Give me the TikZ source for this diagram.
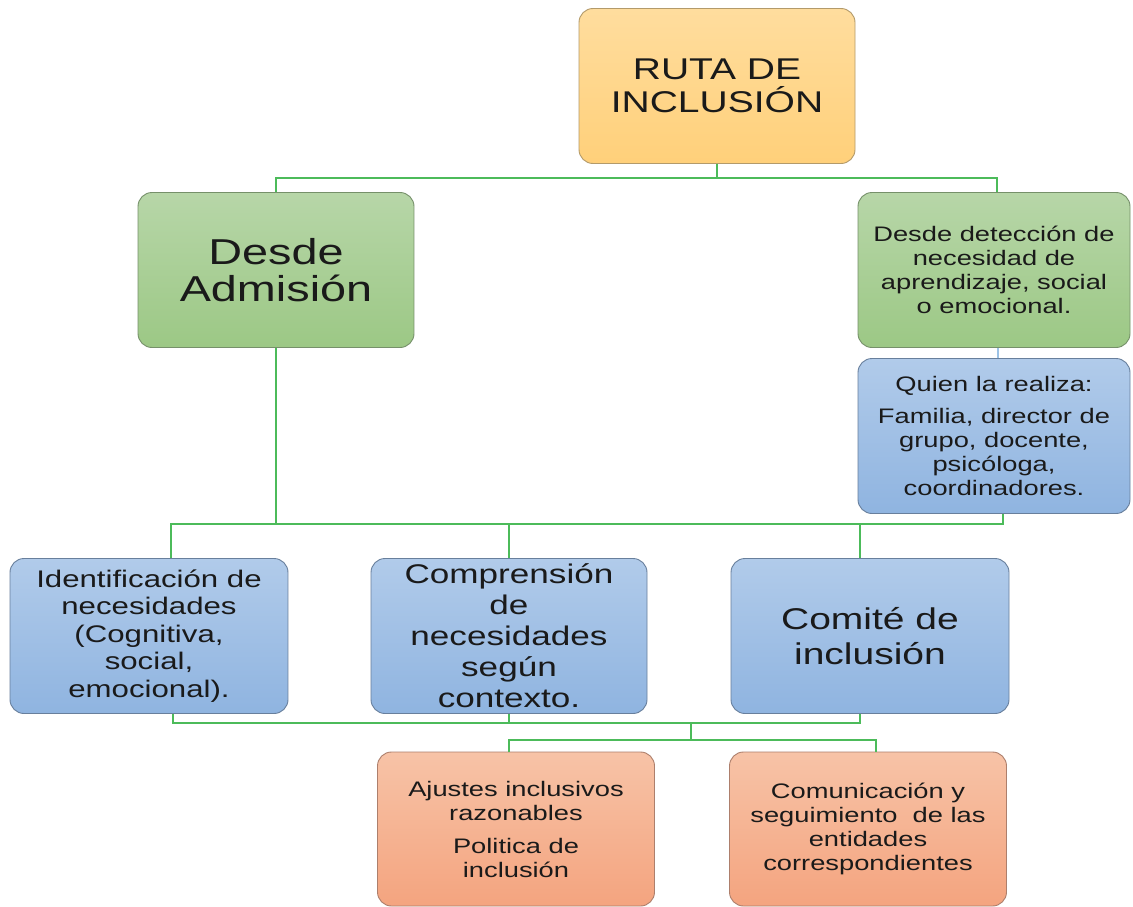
\documentclass[tikz,border=0pt]{standalone}
\usepackage{fontspec}
\setmainfont{Liberation Sans}[FakeStretch=1.3]
\usetikzlibrary{calc}

\definecolor{txt}{HTML}{1A1A1A}
\definecolor{linkgreen}{HTML}{4CBB5A}
\definecolor{linkblue}{HTML}{9DC3E6}
\definecolor{yellowtop}{HTML}{FFDD9E}
\definecolor{yellowbot}{HTML}{FFD07A}
\definecolor{yellowline}{HTML}{B39A6A}
\definecolor{greentop}{HTML}{B7D6A8}
\definecolor{greenbot}{HTML}{9CC885}
\definecolor{greenline}{HTML}{76906A}
\definecolor{bluetop}{HTML}{B1CBEA}
\definecolor{bluebot}{HTML}{8FB4E0}
\definecolor{blueline}{HTML}{687F9C}
\definecolor{orangetop}{HTML}{F7C3A7}
\definecolor{orangebot}{HTML}{F4A47F}
\definecolor{orangeline}{HTML}{AD7F6C}

\begin{document}
\begin{tikzpicture}[x=1pt,y=-1pt]
    \tikzstyle{box}=[rectangle,rounded corners=14pt,line width=0.9pt,align=center,text=txt,inner sep=2pt,minimum width=276pt,minimum height=155pt]
    \tikzstyle{yellowbox}=[box,draw=yellowline,top color=yellowtop,bottom color=yellowbot]
    \tikzstyle{greenbox}=[box,draw=greenline,top color=greentop,bottom color=greenbot]
    \tikzstyle{bluebox}=[box,draw=blueline,top color=bluetop,bottom color=bluebot]
    \tikzstyle{orangebox}=[box,draw=orangeline,top color=orangetop,bottom color=orangebot]
    \tikzstyle{link}=[draw=linkgreen,line width=1.5pt]
    \clip (0,0) rectangle (1133,907);
    \fill[white] (0,0) rectangle (1133,907);
    % top row
    \node[yellowbox,font=\fontsize{30}{33}\selectfont] (box_ruta) at (717,86) {RUTA DE\\INCLUSIÓN};
    \node[greenbox,font=\fontsize{36}{37}\selectfont] (box_adm) at (276,270) {Desde\\Admisión};
    \node[greenbox,minimum width=272pt,font=\fontsize{21}{24}\selectfont] (box_det) at (994,270) {Desde detección de\\necesidad de\\aprendizaje, social\\o emocional.};
    \node[bluebox,minimum width=272pt,font=\fontsize{21}{24}\selectfont] (box_quien) at (994,436) {Quien la realiza:\\[8pt]Familia, director de\\grupo, docente,\\psicóloga,\\coordinadores.};
    % middle row
    \node[bluebox,minimum width=278pt,font=\fontsize{24}{27.5}\selectfont] (box_ident) at (149,636) {Identificación de\\necesidades\\(Cognitiva,\\social,\\emocional).};
    \node[bluebox,font=\fontsize{27}{31}\selectfont] (box_compr) at (509,636) {Comprensión\\de\\necesidades\\según\\contexto.};
    \node[bluebox,minimum width=278pt,font=\fontsize{30}{35}\selectfont] (box_comite) at (870,636) {Comité de\\inclusión};
    % bottom row
    \node[orangebox,minimum width=277pt,minimum height=154pt,font=\fontsize{21}{24}\selectfont] (box_ajustes) at (516,829) {Ajustes inclusivos\\razonables\\[9pt]Politica de\\inclusión};
    \node[orangebox,minimum width=277pt,minimum height=154pt,font=\fontsize{21}{24}\selectfont] (box_comun) at (868,829) {Comunicación y\\seguimiento~ de las\\entidades\\correspondientes};
    % connectors
    \coordinate (j_1) at (717,178);
    \coordinate (j_2) at (509,524);
    \coordinate (j_3) at (691,723);
    \coordinate (j_4) at (691,740);
    \draw[link] (box_ruta.south) -- (j_1) -| (box_adm.north);
    \draw[link] (j_1) -| ([xshift=3pt]box_det.north);
    \draw[draw=linkblue,line width=1.5pt] ([xshift=4pt]box_det.south) -- ([xshift=4pt]box_quien.north);
    \draw[link] (box_adm.south) -- (box_adm.south |- j_2);
    \draw[link] ([xshift=9pt]box_quien.south) |- ([xshift=22pt]box_ident.north |- j_2) -- ([xshift=22pt]box_ident.north);
    \draw[link] (j_2) -- (box_compr.north);
    \draw[link] ([xshift=-10pt]box_comite.north) -- ([xshift=-10pt]box_comite.north |- j_2);
    \draw[link] ([xshift=24pt]box_ident.south) |- ([xshift=-10pt]box_comite.south |- j_3) -- ([xshift=-10pt]box_comite.south);
    \draw[link] (box_compr.south) -- (box_compr.south |- j_3);
    \draw[link] (j_3) -- (j_4);
    \draw[link] ([xshift=-7pt]box_ajustes.north) |- (j_4) -| ([xshift=8pt]box_comun.north);
\end{tikzpicture}
\end{document}
